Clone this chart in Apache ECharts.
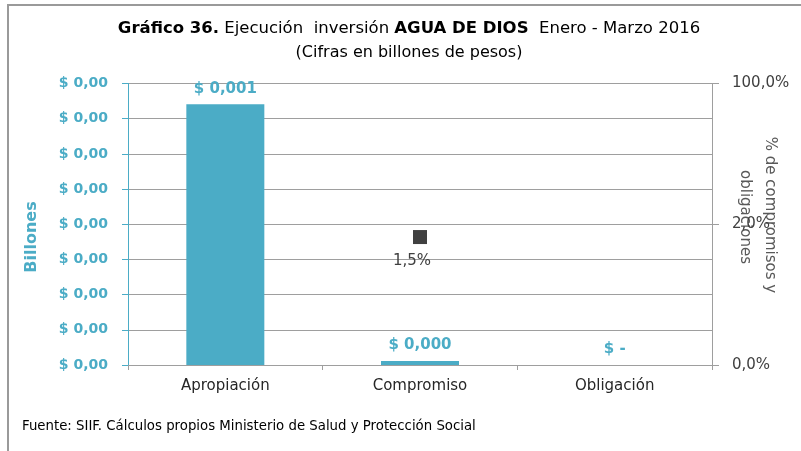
<!DOCTYPE html>
<html>
<head>
<meta charset="utf-8">
<script src="https://cdn.jsdelivr.net/npm/echarts@6/dist/echarts.min.js"></script>
<style>
  html, body { margin: 0; padding: 0; background: #fff; }
  #chart { width: 801px; height: 451px; }
</style>
</head>
<body>
<div id="chart"></div>
<script>
// Categories and values (billones de pesos)
const categories = ['Apropiación', 'Compromiso', 'Obligación'];
const montos = [0.001, 0.000015, 0];
// Share of commitments / obligations over the appropriation
const porcentajes = [null, 0.015, null];
// Tick labels printed on the right axis, bottom to top
const rightTickLabels = ['0,0%', '2,0%', '100,0%'];

const FONT = '"DejaVu Sans", "Noto Sans", sans-serif';
const BLUE = '#4BACC6';
const DARK = '#404040';
const GRID = '#9E9E9E';

const chart = echarts.init(document.getElementById('chart'), null, { renderer: 'canvas' });

const leftMax = 0.00108;
const rightMax = 0.033;

const option = {
  animation: false,
  backgroundColor: '#ffffff',
  textStyle: { fontFamily: FONT },
  grid: { left: 128, right: 89, top: 83.5, bottom: 86, containLabel: false },
  xAxis: {
    type: 'category',
    data: categories,
    boundaryGap: true,
    axisLine: { lineStyle: { color: GRID, width: 1 } },
    axisTick: { show: true, length: 5, lineStyle: { color: GRID } },
    axisLabel: { color: '#262626', fontSize: 15, margin: 14, fontFamily: FONT }
  },
  yAxis: [
    {
      type: 'value',
      min: 0,
      max: leftMax,
      interval: leftMax / 8,
      axisLine: { show: true, lineStyle: { color: BLUE, width: 1 } },
      axisTick: { show: true, length: 6, lineStyle: { color: BLUE } },
      splitLine: { show: true, lineStyle: { color: GRID, width: 1 } },
      axisLabel: {
        color: BLUE, fontWeight: 'bold', fontSize: 14, margin: 20, fontFamily: FONT,
        formatter: v => '$ ' + v.toFixed(2).replace('.', ',')
      }
    },
    {
      type: 'value',
      min: 0,
      max: rightMax,
      interval: rightMax / 2,
      position: 'right',
      axisLine: { show: true, lineStyle: { color: GRID, width: 1 } },
      axisTick: { show: true, length: 7, lineStyle: { color: GRID } },
      splitLine: { show: false },
      axisLabel: {
        color: DARK, fontSize: 15, margin: 20, fontFamily: FONT, align: 'left',
        formatter: (v) => rightTickLabels[Math.round(v / (rightMax / 2))]
      }
    }
  ],
  series: [
    {
      type: 'bar',
      data: montos,
      yAxisIndex: 0,
      barWidth: 78,
      itemStyle: { color: BLUE },
      label: {
        show: true,
        position: 'top',
        distance: 8,
        color: BLUE,
        fontWeight: 'bold',
        fontSize: 15,
        fontFamily: FONT,
        formatter: p => p.value === 0 ? '$ -' : '$ ' + p.value.toFixed(3).replace('.', ',')
      }
    },
    {
      type: 'line',
      data: porcentajes,
      yAxisIndex: 1,
      symbol: 'rect',
      symbolSize: 14,
      itemStyle: { color: DARK },
      lineStyle: { width: 0 },
      label: {
        show: true,
        position: 'bottom',
        distance: 10,
        offset: [-8, 0],
        color: DARK,
        fontSize: 15,
        fontFamily: FONT,
        formatter: p => (p.value * 100).toFixed(1).replace('.', ',') + '%'
      }
    }
  ],
  graphic: [
    {
      type: 'polyline',
      shape: { points: [[8, 451], [8, 5], [801, 5]] },
      style: { stroke: '#9A9A9A', lineWidth: 2, fill: null }
    },
    {
      type: 'text',
      x: 409, y: 29,
      style: {
        text: '{b|Gráfico 36.} Ejecución  inversión {b|AGUA DE DIOS}  Enero - Marzo 2016',
        align: 'center', verticalAlign: 'middle',
        font: '16.5px ' + FONT, fill: '#000',
        rich: { b: { fontWeight: 'bold', fontSize: 16.5, fontFamily: FONT, fill: '#000' } }
      }
    },
    {
      type: 'text',
      x: 409, y: 53,
      style: {
        text: '(Cifras en billones de pesos)',
        align: 'center', verticalAlign: 'middle',
        font: '16px ' + FONT, fill: '#000'
      }
    },
    {
      type: 'text',
      x: 32, y: 237, rotation: Math.PI / 2,
      style: {
        text: 'Billones', align: 'center', verticalAlign: 'middle',
        font: 'bold 16px ' + FONT, fill: BLUE
      }
    },
    {
      type: 'text',
      x: 770, y: 215, rotation: -Math.PI / 2,
      style: {
        text: '% de compromisos y', align: 'center', verticalAlign: 'middle',
        font: '15px ' + FONT, fill: '#595959'
      }
    },
    {
      type: 'text',
      x: 745, y: 217, rotation: -Math.PI / 2,
      style: {
        text: 'obligaciones', align: 'center', verticalAlign: 'middle',
        font: '15px ' + FONT, fill: '#595959'
      }
    },
    {
      type: 'text',
      x: 22, y: 427,
      style: {
        text: 'Fuente: SIIF. Cálculos propios Ministerio de Salud y Protección Social',
        align: 'left', verticalAlign: 'middle',
        font: '13.3px ' + FONT, fill: '#000'
      }
    }
  ]
};

chart.setOption(option);
</script>
</body>
</html>
